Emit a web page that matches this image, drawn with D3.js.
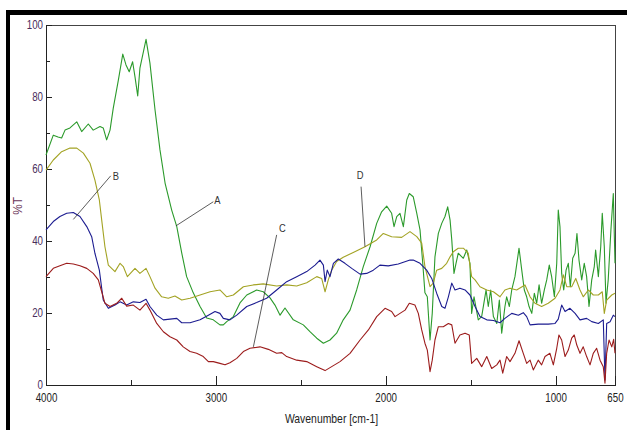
<!DOCTYPE html>
<html>
<head>
<meta charset="utf-8">
<script src="https://cdn.jsdelivr.net/npm/d3@7"></script>
<style>
  body { margin: 0; background: #fff; }
  text { font-family: "Liberation Sans", Arial, sans-serif; }
</style>
</head>
<body>
<div class="chart"></div>
<script>
// Spectra: [wavenumber cm-1, %T]
const seriesA = [[4000,63.9],[3957,69.4],[3929,68.9],[3908,68.6],[3888,70.8],[3859,71.4],[3819,73.1],[3790,70.4],[3751,72.5],[3722,70.8],[3682,71.8],[3663,71.4],[3643,68.1],[3623,70.8],[3604,76.9],[3574,84.7],[3548,91.9],[3529,88.9],[3510,87.0],[3490,89.8],[3476,85.6],[3460,80.3],[3447,88.0],[3411,96.0],[3388,89.4],[3358,76.4],[3329,65.3],[3299,56.1],[3260,48.6],[3230,44.0],[3201,36.7],[3172,30.1],[3133,25.6],[3093,21.8],[3054,18.6],[3015,18.1],[2976,16.7],[2956,16.7],[2936,17.6],[2897,19.0],[2858,22.8],[2818,25.0],[2760,26.4],[2721,25.9],[2681,24.2],[2652,22.2],[2622,19.4],[2593,21.4],[2544,18.1],[2485,16.7],[2446,14.8],[2406,13.0],[2367,11.6],[2328,12.5],[2289,14.4],[2250,18.1],[2210,20.8],[2171,26.4],[2132,32.9],[2092,38.4],[2053,44.9],[2024,48.1],[1994,49.7],[1965,47.7],[1951,44.0],[1935,46.8],[1916,47.7],[1896,44.0],[1876,51.4],[1861,53.2],[1838,52.3],[1817,47.7],[1798,43.1],[1782,33.9],[1769,25.6],[1755,24.5],[1739,12.5],[1726,19.9],[1710,35.6],[1690,42.1],[1670,44.9],[1651,46.8],[1635,49.5],[1621,45.8],[1611,40.3],[1598,31.0],[1586,33.8],[1573,36.6],[1543,35.2],[1523,37.5],[1504,33.8],[1494,19.9],[1480,24.5],[1455,18.1],[1435,19.0],[1409,26.4],[1396,21.8],[1382,26.4],[1366,19.0],[1346,17.1],[1331,23.6],[1317,14.4],[1298,21.8],[1288,24.5],[1272,21.8],[1258,26.4],[1239,30.1],[1215,38.0],[1199,31.9],[1184,26.4],[1170,24.5],[1156,21.8],[1140,19.9],[1125,25.5],[1111,22.7],[1097,27.8],[1082,22.7],[1066,26.4],[1052,29.2],[1037,33.3],[1023,30.1],[1007,24.5],[993,33.8],[984,48.6],[974,44.0],[964,31.0],[952,26.4],[938,31.9],[925,33.8],[913,27.3],[899,35.2],[885,36.6],[874,42.1],[862,34.7],[846,29.2],[831,33.8],[817,30.1],[803,21.8],[787,29.2],[772,32.9],[764,37.5],[748,30.1],[734,38.4],[725,47.7],[713,38.4],[703,22.7],[690,29.2],[674,43.1],[660,53.2],[650,33.8]];

const seriesB = [[4000,43.1],[3957,45.4],[3918,46.8],[3878,47.7],[3839,47.9],[3800,46.8],[3760,44.0],[3731,41.2],[3712,36.6],[3686,31.9],[3663,23.6],[3633,21.3],[3594,22.2],[3564,23.1],[3525,22.2],[3486,23.1],[3447,22.9],[3411,23.8],[3388,21.8],[3348,19.4],[3309,18.1],[3270,18.3],[3230,18.5],[3201,17.3],[3152,17.3],[3093,18.1],[3044,19.4],[3005,20.4],[2976,19.9],[2956,18.5],[2917,18.1],[2877,19.4],[2818,21.8],[2760,22.9],[2701,24.1],[2642,26.4],[2583,28.7],[2524,30.1],[2465,31.5],[2416,33.3],[2387,34.7],[2367,33.3],[2357,28.7],[2344,31.9],[2328,30.1],[2308,33.8],[2279,35.0],[2240,33.8],[2200,32.4],[2151,30.8],[2112,31.0],[2073,31.9],[2034,33.3],[1985,33.1],[1926,33.6],[1857,34.7],[1838,34.7],[1798,33.8],[1759,31.9],[1729,29.6],[1700,25.5],[1670,21.8],[1651,21.3],[1631,24.5],[1611,28.3],[1592,26.4],[1563,26.9],[1533,26.4],[1504,25.0],[1474,21.8],[1445,19.0],[1405,18.1],[1366,17.9],[1327,17.3],[1298,18.5],[1258,19.9],[1219,19.4],[1190,20.1],[1170,19.0],[1150,16.7],[1102,16.9],[1043,16.9],[1003,17.1],[984,18.3],[964,22.2],[944,20.4],[915,21.3],[885,19.9],[856,18.1],[817,18.5],[787,17.6],[748,17.1],[719,18.1],[709,1.4],[699,17.1],[679,17.6],[660,19.4],[650,19.0]];

const seriesC = [[4000,30.1],[3957,32.4],[3918,33.1],[3878,33.8],[3839,33.6],[3800,33.1],[3760,32.4],[3722,31.0],[3692,29.2],[3672,25.9],[3653,22.7],[3623,21.8],[3584,22.7],[3554,24.1],[3525,21.9],[3486,22.2],[3447,20.8],[3411,22.7],[3388,20.8],[3348,17.1],[3309,14.8],[3270,13.4],[3230,12.5],[3192,10.6],[3152,9.3],[3113,8.8],[3074,7.9],[3044,6.5],[3015,6.5],[2976,6.0],[2946,5.6],[2917,6.2],[2877,7.4],[2838,9.3],[2799,10.2],[2740,10.6],[2691,9.9],[2642,8.8],[2612,9.0],[2583,7.9],[2524,6.9],[2465,6.5],[2406,5.1],[2357,4.0],[2318,5.1],[2269,6.5],[2210,8.8],[2151,12.5],[2102,15.3],[2053,19.0],[2004,21.3],[1965,20.4],[1945,19.0],[1916,19.9],[1886,20.8],[1861,22.7],[1828,22.2],[1808,19.9],[1788,15.3],[1769,11.6],[1755,9.7],[1739,3.7],[1726,6.9],[1710,12.5],[1690,16.2],[1661,16.2],[1631,17.1],[1611,16.7],[1592,11.6],[1563,13.9],[1533,14.4],[1508,13.9],[1494,6.0],[1464,7.4],[1435,5.1],[1405,7.9],[1376,4.6],[1346,5.6],[1327,6.9],[1311,3.3],[1288,7.9],[1268,6.5],[1239,8.8],[1215,12.3],[1190,8.8],[1170,6.0],[1150,6.9],[1131,4.2],[1102,6.9],[1082,5.6],[1062,7.9],[1033,8.8],[1013,5.6],[993,10.2],[980,13.9],[964,12.5],[944,7.9],[925,9.7],[905,13.0],[890,13.9],[875,11.1],[856,8.8],[837,10.6],[817,7.9],[797,5.6],[778,8.8],[758,10.2],[738,6.9],[719,5.1],[709,0.5],[699,8.8],[685,12.5],[669,10.6],[658,12.7],[650,8.8]];

const seriesD = [[4000,59.7],[3957,62.5],[3908,64.8],[3859,65.8],[3819,65.8],[3780,64.4],[3741,61.6],[3712,56.9],[3686,51.4],[3672,45.8],[3653,38.4],[3633,33.3],[3594,31.5],[3564,33.8],[3545,32.9],[3521,30.1],[3476,32.4],[3447,31.0],[3411,32.4],[3388,30.1],[3358,26.9],[3319,24.5],[3280,24.1],[3241,24.7],[3201,23.6],[3152,24.1],[3093,25.0],[3034,25.9],[2976,26.4],[2936,24.5],[2897,25.0],[2838,27.3],[2780,27.8],[2721,28.1],[2642,27.5],[2583,27.8],[2524,27.5],[2465,28.4],[2406,30.1],[2377,29.6],[2357,25.9],[2338,29.2],[2318,31.9],[2289,34.3],[2250,35.5],[2191,36.8],[2122,38.4],[2053,40.3],[2014,42.1],[1965,41.2],[1906,41.0],[1857,42.6],[1817,41.2],[1788,39.4],[1769,32.9],[1739,27.3],[1720,28.3],[1700,31.9],[1670,32.4],[1641,33.8],[1621,35.6],[1602,37.0],[1573,38.0],[1543,38.0],[1514,36.6],[1494,30.1],[1474,29.2],[1445,27.3],[1405,26.4],[1366,25.9],[1327,24.5],[1298,26.4],[1268,26.9],[1229,26.4],[1180,27.8],[1150,24.5],[1121,22.7],[1082,21.8],[1043,22.7],[1003,24.1],[974,26.4],[954,30.6],[934,27.3],[905,27.3],[881,29.6],[856,26.4],[837,24.5],[807,26.4],[778,25.0],[748,25.0],[725,25.9],[713,19.9],[699,23.6],[669,25.0],[650,25.5]];

const series = [
  { name: "A", values: seriesA, color: "#2b9a2b" },
  { name: "D", values: seriesD, color: "#a3a324" },
  { name: "B", values: seriesB, color: "#1c1c90" },
  { name: "C", values: seriesC, color: "#9c1c1c" }
];

// label, text position, leader line from -> to (wavenumber, %T)
const labels = [
  { text: "A", at: [2991, 51.4], from: [3015, 50.9], to: [3235, 44.2] },
  { text: "B", at: [3588, 58.1], from: [3619, 58.1], to: [3839, 46.0] },
  { text: "C", at: [2609, 43.5], from: [2642, 41.7], to: [2779, 10.6] },
  { text: "D", at: [2151, 58.3], from: [2145, 55.1], to: [2122, 38.4] }
];

const xMajor = [4000, 3000, 2000, 1000, 650];
const xMinor = [3500, 2500, 1500];
const yMajor = [0, 20, 40, 60, 80, 100];
const yMinor = [10, 30, 50, 70, 90];

const W = 627, H = 430;
const margin = { left: 46, right: 615, top: 25, bottom: 385 };
const squeeze = 0.75; // narrow look of the original font

const svg = d3.select(".chart").append("svg")
    .attr("width", W)
    .attr("height", H);

svg.append("rect").attr("width", W).attr("height", H).attr("fill", "#fff");

// thick black window frame
svg.append("rect").attr("x", 6).attr("y", 10).attr("width", 4).attr("height", H - 10).attr("fill", "#000");
svg.append("rect").attr("x", 6).attr("y", 10).attr("width", W - 6).attr("height", 5).attr("fill", "#000");

const x = d3.scaleLinear().domain([4000, 650]).range([margin.left, margin.right]);
const y = d3.scaleLinear().domain([0, 100]).range([margin.bottom, margin.top]);

// plot frame
svg.append("rect")
    .attr("x", margin.left).attr("y", margin.top)
    .attr("width", margin.right - margin.left).attr("height", margin.bottom - margin.top)
    .attr("fill", "none").attr("stroke", "#444").attr("stroke-width", 1)
    .attr("shape-rendering", "crispEdges");

// x axis
const gx = svg.append("g")
    .attr("transform", `translate(0, ${margin.bottom})`)
    .call(d3.axisBottom(x).tickValues(xMajor).tickFormat(d3.format("d"))
        .tickSizeInner(-9).tickSizeOuter(0).tickPadding(8));
gx.select(".domain").attr("stroke", "#222");
gx.selectAll(".tick line").attr("stroke", "#222");
gx.selectAll(".tick text")
    .attr("font-size", 13)
    .attr("fill", "#222")
    .attr("transform", `scale(${squeeze},1)`);

const gx2 = svg.append("g")
    .attr("transform", `translate(0, ${margin.bottom})`)
    .call(d3.axisBottom(x).tickValues(xMinor).tickFormat("").tickSizeInner(-5).tickSizeOuter(0));
gx2.select(".domain").remove();
gx2.selectAll(".tick line").attr("stroke", "#222");

// y axis
const gy = svg.append("g")
    .attr("transform", `translate(${margin.left}, 0)`)
    .call(d3.axisLeft(y).tickValues(yMajor).tickSizeInner(-6).tickSizeOuter(0).tickPadding(3));
gy.select(".domain").attr("stroke", "#222");
gy.selectAll(".tick line").attr("stroke", "#222");
gy.selectAll(".tick text")
    .attr("font-size", 13)
    .attr("fill", "#4a2d5c")
    .attr("x", -3 / squeeze)
    .attr("dy", "0.25em")
    .attr("transform", `scale(${squeeze},1)`);

const gy2 = svg.append("g")
    .attr("transform", `translate(${margin.left}, 0)`)
    .call(d3.axisLeft(y).tickValues(yMinor).tickFormat("").tickSizeInner(-4).tickSizeOuter(0));
gy2.select(".domain").remove();
gy2.selectAll(".tick line").attr("stroke", "#222");

svg.selectAll(".domain, .tick line").attr("shape-rendering", "crispEdges");

// axis titles
svg.append("text")
    .attr("transform", `translate(${(margin.left + margin.right) / 2 + 1}, 423) scale(0.8,1)`)
    .attr("text-anchor", "middle")
    .attr("font-size", 13)
    .attr("fill", "#222")
    .text("Wavenumber [cm-1]");

svg.append("text")
    .attr("transform", `translate(22, ${y(50) + 1}) rotate(-90) scale(0.9,1)`)
    .attr("text-anchor", "middle")
    .attr("font-size", 13)
    .attr("fill", "#6a3358")
    .text("%T");

// spectra
const line = d3.line()
    .x(d => x(d[0]))
    .y(d => y(d[1]));

svg.append("g").selectAll("path")
    .data(series)
    .join("path")
    .attr("d", d => line(d.values))
    .attr("fill", "none")
    .attr("stroke", d => d.color)
    .attr("stroke-width", 1.1)
    .attr("stroke-linejoin", "round");

// annotations
const ann = svg.append("g");
ann.selectAll("line")
    .data(labels)
    .join("line")
    .attr("x1", d => x(d.from[0])).attr("y1", d => y(d.from[1]))
    .attr("x2", d => x(d.to[0])).attr("y2", d => y(d.to[1]))
    .attr("stroke", "#333").attr("stroke-width", 0.8);

ann.selectAll("text")
    .data(labels)
    .join("text")
    .attr("transform", d => `translate(${x(d.at[0])}, ${y(d.at[1])}) scale(0.85,1)`)
    .attr("dy", "0.35em")
    .attr("text-anchor", "middle")
    .attr("font-size", 11)
    .attr("fill", "#333")
    .text(d => d.text);
</script>
</body>
</html>
